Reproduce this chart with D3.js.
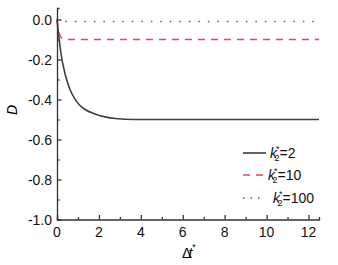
<!DOCTYPE html>
<html>
<head>
<meta charset="utf-8">
<script src="https://cdn.jsdelivr.net/npm/d3@7"></script>
<style>
  body { margin: 0; background: #fff; }
  text { font-family: "Liberation Sans", Arial, sans-serif; }
</style>
</head>
<body>
<div id="plot"></div>
<script>
// chart size
var width = 338;
var height = 265;
var margin = {left: 57, top: 8, right: 20, bottom: 45};

// values
var tBlack = [0, 0.05, 0.1, 0.19, 0.38, 0.62, 0.86, 1.1, 1.34, 1.82, 2.3, 2.78, 3.7, 5, 6, 8, 10, 12.5];
var dBlack = [0, -0.05, -0.095, -0.17, -0.27, -0.35, -0.398, -0.43, -0.45, -0.472, -0.487, -0.495, -0.5, -0.5, -0.5, -0.5, -0.5, -0.5];
var tRed = [0, 0.05, 0.1, 0.15, 0.2, 0.3, 0.5, 12.5];
var dRed = [0, -0.04, -0.065, -0.08, -0.09, -0.098, -0.1, -0.1];
var tBlue = [0, 0.03, 0.1, 12.5];
var dBlue = [0, -0.008, -0.01, -0.01];

var seriesK = ["2", "10", "100"];
var xTicks = [0, 2, 4, 6, 8, 10, 12];
var yTicks = [0, -0.2, -0.4, -0.6, -0.8, -1.0];

var styles = [
  {color: "#3f3f3f", dash: null, width: 1.6},
  {color: "#ee4450", dash: "7,6", width: 1.4},
  {color: "#2a62d8", dash: "1.5,8", width: 1.7}
];

var series = [
  {t: tBlack, d: dBlack},
  {t: tRed, d: dRed},
  {t: tBlue, d: dBlue}
];

var svg = d3.select("#plot")
  .append("svg")
  .attr("width", width)
  .attr("height", height);

var x = d3.scaleLinear().domain([0, 12.5]).range([margin.left, width - margin.right + 1]);
var y = d3.scaleLinear().domain([-1, 0.0575]).range([219.5, margin.top]);

// lines (drawn first so axis sits on top)
var line = d3.line()
  .curve(d3.curveMonotoneX)
  .x(function(p) { return x(p[0]); })
  .y(function(p) { return y(p[1]); });

series.forEach(function(s, i) {
  var pts = s.t.map(function(t, j) { return [t, s.d[j]]; });
  svg.append("path")
    .attr("d", line(pts))
    .attr("fill", "none")
    .attr("stroke", styles[i].color)
    .attr("stroke-width", styles[i].width)
    .attr("stroke-dasharray", styles[i].dash);
});

var axisColor = "#333";

// x axis
var gx = svg.append("g").attr("transform", "translate(0," + y(-1) + ")");
gx.call(d3.axisBottom(x).tickValues(d3.range(0, 12.5, 1)).tickSize(-2.5).tickFormat(""));
gx.call(function(g) {
  g.selectAll(".tick line").filter(function(d) { return d % 2 === 0; }).attr("y2", -4.5);
});
svg.append("g").selectAll("text")
  .data(xTicks)
  .enter()
  .append("text")
  .text(function(d) { return d; })
  .attr("x", function(d) { return x(d); })
  .attr("y", 237)
  .attr("text-anchor", "middle")
  .attr("font-size", 14)
  .attr("fill", "#111");

// y axis
var gy = svg.append("g").attr("transform", "translate(" + x(0) + ",0)");
gy.call(d3.axisLeft(y).tickValues(d3.range(-10, 1, 1).map(function(v) { return v / 10; })).tickSize(-2.5).tickFormat(""));
gy.call(function(g) {
  g.selectAll(".tick line").filter(function(d) { return Math.round(d * 10) % 2 === 0; }).attr("x2", 4.5);
});
gy.append("g").selectAll("text")
  .data(yTicks)
  .enter()
  .append("text")
  .text(function(d) { return d3.format(".1f")(d).replace("\u2212", "-"); })
  .attr("x", -5)
  .attr("y", function(d) { return y(d) + 5; })
  .attr("text-anchor", "end")
  .attr("font-size", 14)
  .attr("fill", "#111");

svg.selectAll(".domain, .tick line").attr("stroke", axisColor).attr("stroke-width", 1.3);

// axis titles
svg.append("text")
  .attr("transform", "translate(17,110) rotate(-90)")
  .attr("text-anchor", "middle")
  .attr("font-size", 14)
  .attr("font-style", "italic")
  .text("D");

var xt = svg.append("text")
  .attr("x", 189)
  .attr("y", 258)
  .attr("text-anchor", "middle")
  .attr("font-size", 14);
xt.append("tspan").text("\u0394");
xt.append("tspan").attr("font-style", "italic").attr("dx", -3).text("t");
xt.append("tspan").attr("font-size", 9).attr("dy", -8).text("*");

// legend
var legY = [153, 175, 198];
series.forEach(function(s, i) {
  svg.append("line")
    .attr("x1", 243).attr("x2", i === 2 ? 262 : 266)
    .attr("y1", legY[i]).attr("y2", legY[i])
    .attr("stroke", styles[i].color)
    .attr("stroke-width", styles[i].width)
    .attr("stroke-dasharray", i === 2 ? "1.5,6" : styles[i].dash);
  var tx = svg.append("text")
    .attr("x", i === 2 ? 273 : (i === 1 ? 268 : 270))
    .attr("y", legY[i] + 5)
    .attr("font-size", 14)
    .attr("fill", "#111");
  tx.append("tspan").attr("font-style", "italic").text("k");
  tx.append("tspan").attr("font-size", 9).attr("dy", -6).attr("dx", -1).text("*");
  tx.append("tspan").attr("font-size", 9).attr("dy", 9).attr("dx", -5).text("2");
  tx.append("tspan").attr("dy", -3).text("=" + seriesK[i]);
});
</script>
</body>
</html>
